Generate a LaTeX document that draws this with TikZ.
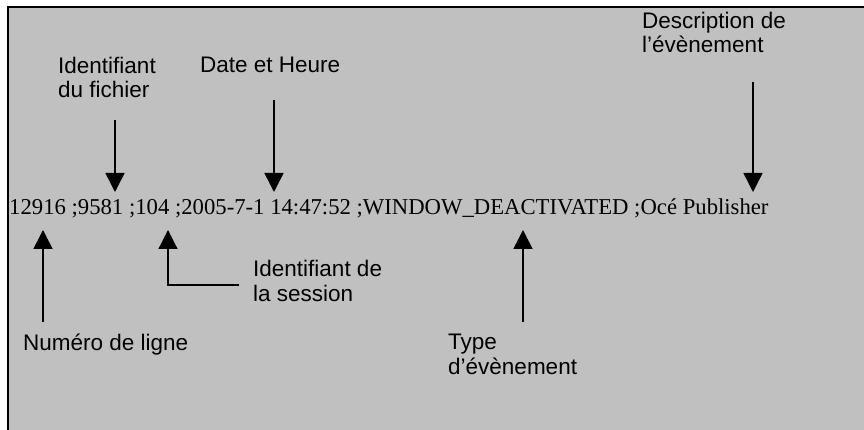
\documentclass[tikz,border=0pt]{standalone}
\usepackage{fontspec}
\setmainfont{Liberation Sans}
\newfontfamily\recordfont{Liberation Serif}
\usetikzlibrary{arrows.meta}
\definecolor{panelgrey}{HTML}{C0C0C0}
\begin{document}
\begin{tikzpicture}[x=1pt,y=-1pt,
  fieldlabel/.style={anchor=base west,inner sep=0pt,align=left,
    font=\fontsize{22.5}{24.5}\selectfont,text=black},
  pointer/.style={line width=1.5pt,draw=black,
    -{Triangle[width=19pt,length=19pt]}},
  elbow/.style={line width=1.2pt,draw=black,
    -{Triangle[width=19pt,length=19pt]}}]
  \useasboundingbox (0,0) rectangle (864,430);
  % grey panel, open at the right and bottom edges
  \fill[panelgrey] (8,7) rectangle (870,436);
  \draw[line width=2pt,black] (8,436) -- (8,7) -- (870,7);

  % the log record
  \node[anchor=base west,inner sep=0pt,font=\recordfont\fontsize{22.7}{24}\selectfont]
    (record) at (9,215)
    {12916 ;9581 ;104 ;2005-7-1 14:47:52 ;WINDOW\_DEACTIVATED ;Océ Publisher};

  % field labels (anchored on the baseline of their last line)
  \node[fieldlabel] (file) at (58,98) {Identifiant\\du fichier};
  \node[fieldlabel] (date) at (200,73) {Date et Heure};
  \node[fieldlabel] (desc) at (642,53) {Description de\\l’évènement};
  \node[fieldlabel] (session) at (253,301) {Identifiant de\\la session};
  \node[fieldlabel] (line) at (23,350) {Numéro de ligne};
  \node[fieldlabel] (type) at (448,374) {Type\\d’évènement};

  % arrow ends
  \coordinate (fileTail) at (115,120);
  \coordinate (fileTip) at (115,192);
  \coordinate (dateTail) at (274,100);
  \coordinate (dateTip) at (274,192);
  \coordinate (descTail) at (753,82);
  \coordinate (descTip) at (753,192);
  \coordinate (lineTail) at (43,322);
  \coordinate (lineTip) at (43,230);
  \coordinate (typeTail) at (523,322);
  \coordinate (typeTip) at (523,230);
  \coordinate (sessionTail) at (239,285);
  \coordinate (sessionTip) at (168,230);

  % arrows
  \draw[pointer] (fileTail) -- (fileTip);
  \draw[pointer] (dateTail) -- (dateTip);
  \draw[pointer] (descTail) -- (descTip);
  \draw[pointer] (lineTail) -- (lineTip);
  \draw[pointer] (typeTail) -- (typeTip);
  \draw[elbow] (sessionTail) -| (sessionTip);
\end{tikzpicture}
\end{document}
